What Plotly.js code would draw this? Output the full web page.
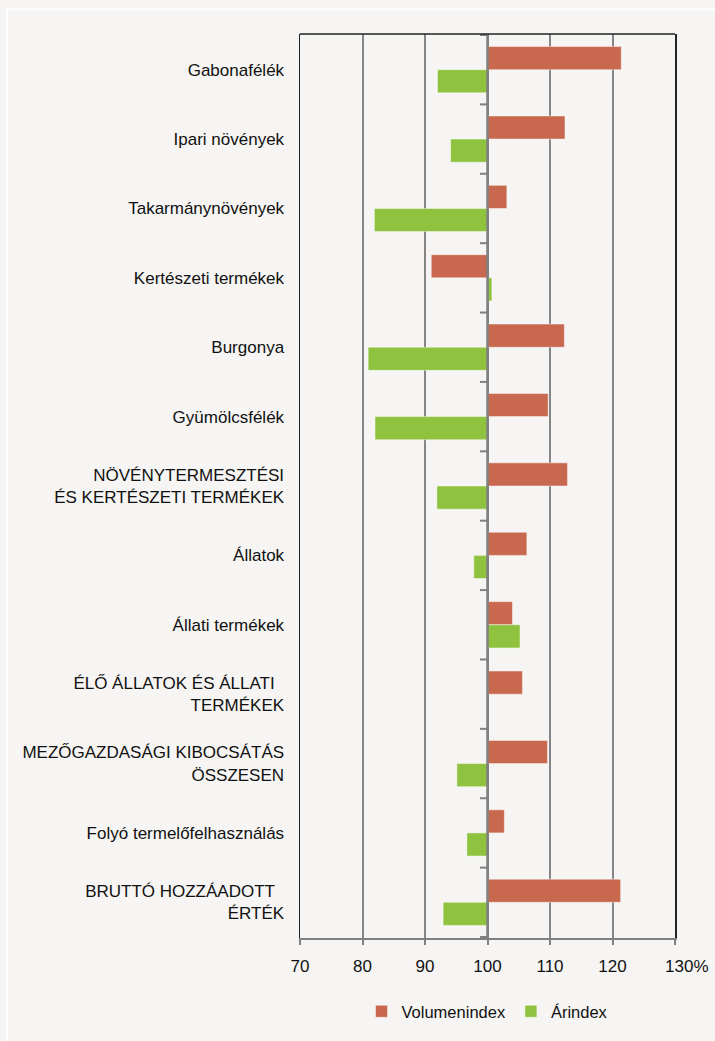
<!DOCTYPE html>
<html>
<head>
<meta charset="utf-8">
<script src="https://cdn.plot.ly/plotly-3.0.1.min.js"></script>
<style>html,body{margin:0;padding:0;background:#f6f5f3;}#chart{width:715px;height:1041px;}</style>
</head>
<body>
<div id="chart"></div>
<script>
const categories = [
  "Gabonafélék",
  "Ipari növények",
  "Takarmánynövények",
  "Kertészeti termékek",
  "Burgonya",
  "Gyümölcsfélék",
  "NÖVÉNYTERMESZTÉSI<br>ÉS KERTÉSZETI TERMÉKEK",
  "Állatok",
  "Állati termékek",
  "ÉLŐ ÁLLATOK ÉS ÁLLATI \u00a0<br>TERMÉKEK",
  "MEZŐGAZDASÁGI KIBOCSÁTÁS<br>ÖSSZESEN",
  "Folyó termelőfelhasználás",
  "BRUTTÓ HOZZÁADOTT \u00a0<br>ÉRTÉK"
];
const volumenindex = [121.4, 112.4, 103.1, 91.0, 112.3, 109.7, 112.8, 106.3, 104.0, 105.6, 109.6, 102.7, 121.3];
const arindex      = [92.0, 94.1, 81.9, 100.7, 80.9, 82.0, 91.9, 97.8, 105.2, 100.0, 95.1, 96.7, 92.9];
const tickVals = [70, 80, 90, 100, 110, 120, 130];
const tickText = ["70", "80", "90", "100", "110", "120", "\u00a0\u00a0\u00a0\u00a0\u00a0130%"];
const baseValue = 100;

const font = "Liberation Sans, Arial, sans-serif";

const traces = [
  {
    type: "bar", orientation: "h", name: "Volumenindex",
    y: categories, x: volumenindex.map(v => v - baseValue), base: baseValue,
    marker: {color: "#c8694f", line: {color: "rgba(255,255,255,0.45)", width: 1}},
    hoverinfo: "skip"
  },
  {
    type: "bar", orientation: "h", name: "Árindex",
    y: categories, x: arindex.map(v => v - baseValue), base: baseValue,
    marker: {color: "#8fc23e", line: {color: "rgba(255,255,255,0.45)", width: 1}},
    hoverinfo: "skip"
  }
];

// small tick marks on the 100 line at category boundaries
const shapes = [];
for (let i = 0; i <= categories.length; i++) {
  shapes.push({type: "line", xref: "x", yref: "y", x0: 98.8, x1: baseValue, y0: i - 0.5, y1: i - 0.5,
    line: {color: "#808080", width: 2}});
}
// 100 reference line
shapes.push({type: "line", xref: "x", yref: "paper", x0: baseValue, x1: baseValue, y0: 0, y1: 1,
  line: {color: "#808080", width: 2.5}});
// top border
shapes.push({type: "line", xref: "paper", yref: "paper", x0: 0, x1: 1, y0: 1, y1: 1,
  line: {color: "#222", width: 1.5}});
// outer white frame
shapes.push({type: "line", xref: "paper", yref: "paper", x0: -0.7813, x1: 1.2, y0: 1.0274, y1: 1.0274,
  line: {color: "#ffffff", width: 2}});
shapes.push({type: "line", xref: "paper", yref: "paper", x0: -0.7813, x1: -0.7813, y0: 1.0274, y1: -0.2,
  line: {color: "#ffffff", width: 2}});

const layout = {
  width: 715, height: 1041,
  paper_bgcolor: "#f6f5f3", plot_bgcolor: "#f6f5f3",
  margin: {l: 300, r: 40, t: 34, b: 96},
  barmode: "group", bargap: 0.333, bargroupgap: 0,
  font: {family: font, size: 17, color: "#111"},
  xaxis: {
    range: [70, 130], tickvals: tickVals, ticktext: tickText,
    showgrid: true, gridcolor: "#858585", gridwidth: 2,
    zeroline: false, showline: true, linecolor: "#808080", linewidth: 2,
    ticks: "outside", ticklen: 5, tickwidth: 2, tickcolor: "#808080", ticklabelstandoff: 7,
    tickfont: {family: font, size: 17, color: "#111"}, fixedrange: true
  },
  yaxis: {
    type: "category", autorange: "reversed",
    showgrid: false, zeroline: false, showline: true, linecolor: "#222", linewidth: 1.5, mirror: true,
    ticks: "", ticklabelstandoff: 11,
    tickfont: {family: font, size: 17, color: "#111"}, fixedrange: true
  },
  legend: {
    orientation: "h", x: 0.5, xanchor: "center", y: -0.062, yanchor: "top",
    font: {family: font, size: 16.5, color: "#111"}, bgcolor: "rgba(0,0,0,0)",
    itemwidth: 30, tracegroupgap: 0
  },
  shapes: shapes,
  showlegend: true
};

Plotly.newPlot("chart", traces, layout, {displayModeBar: false, staticPlot: true});
</script>
</body>
</html>
